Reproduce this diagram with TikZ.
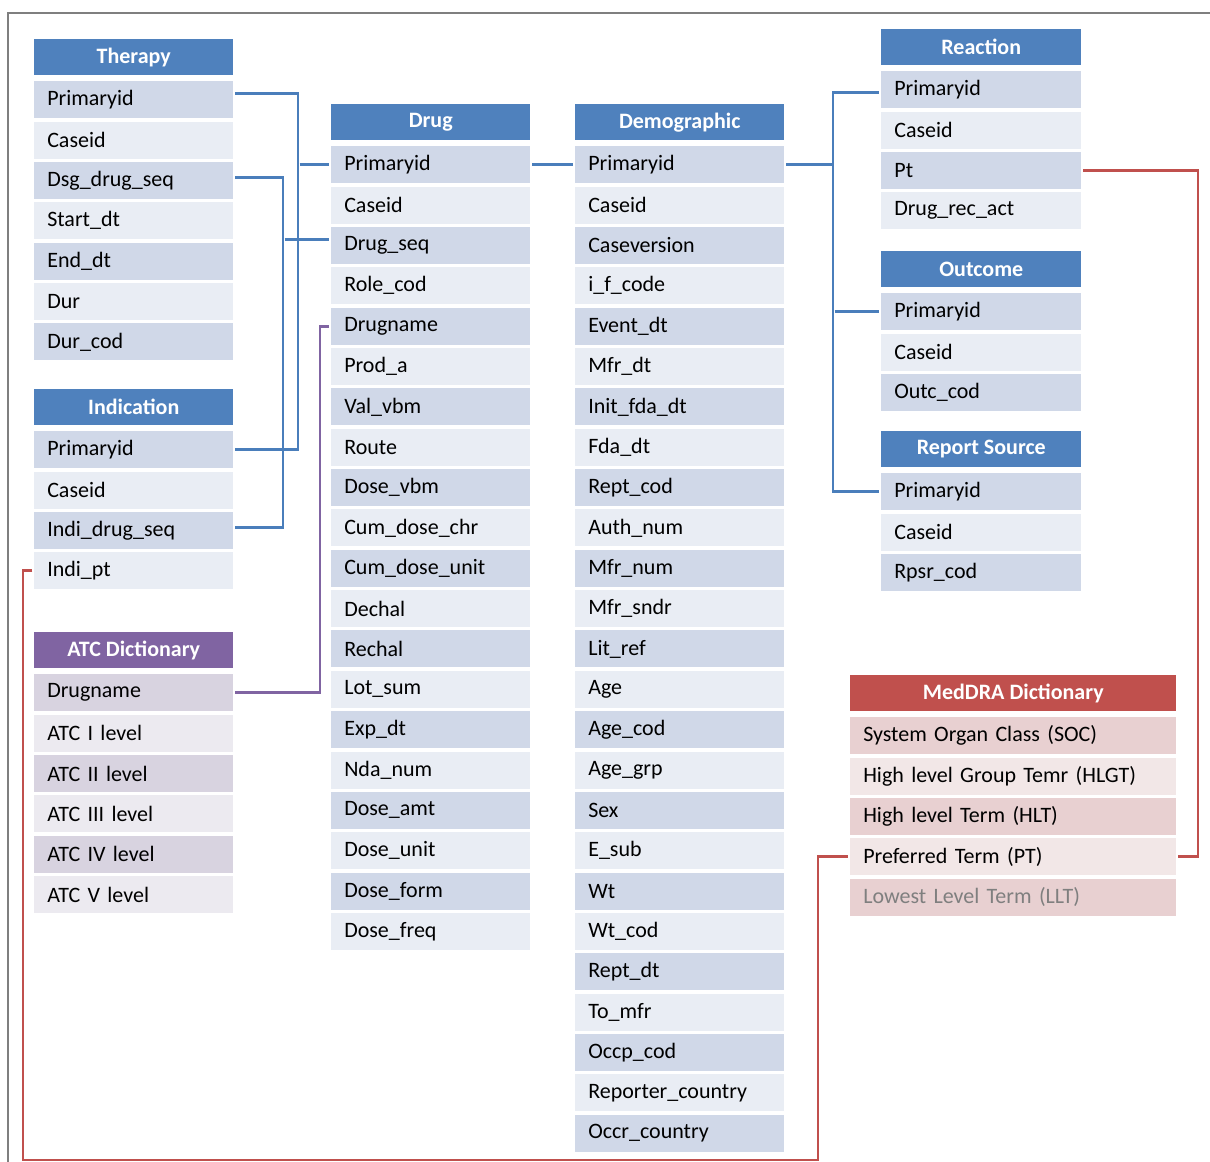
\documentclass[tikz,border=0pt]{standalone}
\usepackage{fontspec}
\setmainfont{Carlito}
\definecolor{hb}{HTML}{4F81BD}
\definecolor{bdark}{HTML}{D0D8E8}
\definecolor{blight}{HTML}{E9EDF4}
\definecolor{hp}{HTML}{8064A2}
\definecolor{pdark}{HTML}{D8D3E0}
\definecolor{plight}{HTML}{ECEAF0}
\definecolor{hr}{HTML}{C0504D}
\definecolor{rdark}{HTML}{E8D0D1}
\definecolor{rlight}{HTML}{F2E7E7}
\definecolor{cblue}{HTML}{4A7EBB}
\definecolor{lltgray}{HTML}{7F7F7F}
\definecolor{framegray}{HTML}{7F7F7F}
\tikzset{
  hdr/.style={inner sep=0pt, minimum height={36*0.75pt}, text=white,
    font=\bfseries\fontsize{16.5}{19}\selectfont},
  rowbox/.style={inner xsep={13*0.75pt}, inner ysep=0pt, minimum height={37*0.75pt},
    align=left, font=\fontsize{16.5}{19}\selectfont},
  conn/.style={line width=2.1pt, shorten <=1.2pt, shorten >=1.2pt},
  cb/.style={conn, draw=cblue},
  cp/.style={conn, draw=hp},
  cr/.style={conn, draw=hr},
  framestyle/.style={draw=framegray, line width=1.1pt}
}
% #1 name, #2 x-left, #3 y-top, #4 width, #5 header, #6 scheme (b,p,r), #7 rows
\newcommand\dbtable[7]{%
  \node[hdr, fill=h#6, minimum width={#4*0.75pt}, anchor=north west] (#1-h) at (#2,#3) {#5};
  \foreach \t [count=\i] in {#7} {
    \pgfmathsetmacro\yy{#3+42+(\i-1)*40.35}
    \pgfmathtruncatemacro\odd{mod(\i,2)}
    \ifnum\odd=1 \def\rc{#6dark}\else\def\rc{#6light}\fi
    \node[rowbox, fill=\rc, minimum width={#4*0.75pt}, text width={(#4-26)*0.75pt},
      anchor=north west] (#1-\i) at (#2,\yy) {\t};
  }
}
\begin{document}
\begin{tikzpicture}[x=0.75pt, y=-0.75pt]
\useasboundingbox (0,0) rectangle (1210,1162);
\draw[framestyle] (1210,13) -- (8,13) -- (8,1162);

\dbtable{ther}{34}{39}{199}{Therapy}{b}{Primaryid, Caseid, Dsg\_drug\_seq, Start\_dt, End\_dt, Dur, Dur\_cod}
\dbtable{ind}{34}{389}{199}{Indication}{b}{Primaryid, Caseid, Indi\_drug\_seq, Indi\_pt}
\dbtable{atc}{34}{632}{199}{ATC Dictionary}{p}{Drugname, ATC I level, ATC II level, ATC III level, ATC IV level, ATC V level}
\dbtable{drug}{331}{104}{199}{Drug}{b}{Primaryid, Caseid, Drug\_seq, Role\_cod, Drugname, Prod\_a, Val\_vbm, Route, Dose\_vbm, Cum\_dose\_chr, Cum\_dose\_unit, Dechal, Rechal, Lot\_sum, Exp\_dt, Nda\_num, Dose\_amt, Dose\_unit, Dose\_form, Dose\_freq}
\dbtable{demo}{575}{104}{209}{Demographic}{b}{Primaryid, Caseid, Caseversion, i\_f\_code, Event\_dt, Mfr\_dt, Init\_fda\_dt, Fda\_dt, Rept\_cod, Auth\_num, Mfr\_num, Mfr\_sndr, Lit\_ref, Age, Age\_cod, Age\_grp, Sex, E\_sub, Wt, Wt\_cod, Rept\_dt, To\_mfr, Occp\_cod, Reporter\_country, Occr\_country}
\dbtable{rea}{881}{29}{200}{Reaction}{b}{Primaryid, Caseid, Pt, Drug\_rec\_act}
\dbtable{out}{881}{251}{200}{Outcome}{b}{Primaryid, Caseid, Outc\_cod}
\dbtable{rep}{881}{431}{200}{Report Source}{b}{Primaryid, Caseid, Rpsr\_cod}
\dbtable{med}{850}{675}{326}{MedDRA Dictionary}{r}{{System Organ Class (SOC)}, {High level Group Temr (HLGT)}, {High level Term (HLT)}, {Preferred Term (PT)}, {\color{lltgray}Lowest Level Term (LLT)}}

\coordinate (ja) at (298,0);
\coordinate (jb) at (283,0);
\coordinate (jc) at (833,0);
\coordinate (jp) at (320,0);
\coordinate (jr) at (1198,0);
\coordinate (jl) at (23,0);
\coordinate (jm) at (818,0);
\coordinate (bot) at (0,1160);

% blue connectors
\draw[cb] ([yshift=4.5pt]ther-1.east) -| (ja |- ind-1.east) -- (ind-1.east);
\draw[cb] (ja |- drug-1.west) -- (drug-1.west);
\draw[cb] ([yshift=2pt]ther-3.east) -| ([yshift=2pt]jb |- ind-3.east) -- ([yshift=2pt]ind-3.east);
\draw[cb] ([yshift=4.5pt]jb |- drug-3.west) -- ([yshift=4.5pt]drug-3.west);
\draw[cb] (drug-1.east) -- (demo-1.west);
\draw[cb] (demo-1.east) -| ([yshift=-2pt]jc |- rea-1.west) -- ([yshift=-2pt]rea-1.west);
\draw[cb] (demo-1.east -| jc) |- (rep-1.west);
\draw[cb] (jc |- out-1.west) -- (out-1.west);

% purple connector
\draw[cp] (atc-1.east) -| (jp |- drug-5.west) -- (drug-5.west);

% red connectors
\draw[cr] (rea-3.east) -| (jr |- med-4.east) -- (med-4.east);
\draw[cr] (ind-4.west) -| (jl |- bot) -| (jm |- med-4.west) -- (med-4.west);
\end{tikzpicture}
\end{document}
